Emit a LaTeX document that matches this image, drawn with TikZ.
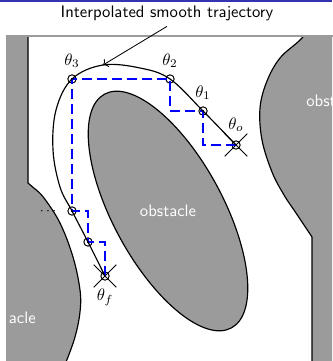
\documentclass[tikz,border=0pt]{standalone}
\usepackage{amsmath}
\usepackage{tikz}
\usetikzlibrary{arrows.meta, positioning, calc, shapes.misc}
\usepackage{xcolor}
\definecolor{obstgray}{RGB}{155,155,155}
\definecolor{barblue}{RGB}{51,51,179}
\tikzset{>=To}

\begin{document}
\begin{tikzpicture}[x=0.6pt, y=-0.6pt]

         %%%%%%%%%%%%%%%%%%%%%%%%%%%%%%%%%%%%%%%%%%%%%%%%%%%%%%%%%%%%%%%%%%%%%%
         % Parameter
         %%%%%%%%%%%%%%%%%%%%%%%%%%%%%%%%%%%%%%%%%%%%%%%%%%%%%%%%%%%%%%%%%%%%%%
         \def\fxmin{7}
         \def\fxmax{332}
         \def\fytop{36}
         \def\fybot{361}

         % Stile für Hindernisse, Wegpunkte und Treppenlinie
         \tikzset{
            wall/.style={fill=obstgray, draw=black, line width=0.7pt},
            obsttext/.style={white, font=\sffamily, inner sep=0pt},
            wpt/.style={circle, draw, line width=0.6pt, inner sep=0pt, minimum size=5pt},
            endpt/.style={cross out, draw, line width=0.6pt, inner sep=0pt, minimum size=13pt},
            stair/.style={blue, line width=0.9pt, dash pattern=on 6pt off 3pt}
         }

         \useasboundingbox (0,0) rectangle (332,361);

         %%%%%%%%%%%%%%%%%%%%%%%%%%%%%%%%%%%%%%%%%%%%%%%%%%%%%%%%%%%%%%%%%%%%%%
         % Kopfzeile
         %%%%%%%%%%%%%%%%%%%%%%%%%%%%%%%%%%%%%%%%%%%%%%%%%%%%%%%%%%%%%%%%%%%%%%
         \fill[barblue] (0,0) rectangle (332,2.5);
         \node[font=\sffamily] (Title) at (167,13) {Interpolated smooth trajectory};

         %%%%%%%%%%%%%%%%%%%%%%%%%%%%%%%%%%%%%%%%%%%%%%%%%%%%%%%%%%%%%%%%%%%%%%
         % Hindernisse (abgeschnitten am Rahmen)
         %%%%%%%%%%%%%%%%%%%%%%%%%%%%%%%%%%%%%%%%%%%%%%%%%%%%%%%%%%%%%%%%%%%%%%
         \begin{scope}
            \clip (\fxmin,\fytop) rectangle (\fxmax,\fybot);

            % linke Wand mit unterem Hindernis
            \draw[wall] (-10,20) -- (28,20) -- (28,183) -- (35,189)
               -- plot[smooth, tension=0.6] coordinates {(35,189) (44,198) (60,223) (73,257) (80,290) (80,312) (75,337) (66,362) (60,375)}
               -- (-10,375) -- cycle;

            % rechte Wand mit oberem Hindernis
            \draw[wall] (345,20) -- (318,20)
               -- plot[smooth, tension=0.6] coordinates {(318,20) (300,40) (280,58) (267,81) (260,108) (262,140) (272,172) (284,195) (296,213) (312,237)}
               -- (312,375) -- (345,375) -- cycle;

            % mittleres Hindernis (geneigte Ellipse)
            \draw[wall, rotate around={-61.5:(168,211)}] (168,211) ellipse (133 and 55);

            \node[obsttext, anchor=base] (MidLabel) at (168,216) {obstacle};
            \node[obsttext, anchor=base east] (LeftLabel) at (36,323) {obstacle};
            \node[obsttext, anchor=base west] (RightLabel) at (306,107) {obstacle};
         \end{scope}

         % Rahmen
         \draw[obstgray, line width=1pt] (\fxmin,\fybot+5) -- (\fxmin,\fytop) -- (\fxmax+5,\fytop);

         %%%%%%%%%%%%%%%%%%%%%%%%%%%%%%%%%%%%%%%%%%%%%%%%%%%%%%%%%%%%%%%%%%%%%%
         % Wegpunkte
         %%%%%%%%%%%%%%%%%%%%%%%%%%%%%%%%%%%%%%%%%%%%%%%%%%%%%%%%%%%%%%%%%%%%%%
         \node[wpt] (ThetaO)     at (236,145) {};
         \node[wpt] (ThetaOne)   at (203,111) {};
         \node[wpt] (ThetaTwo)   at (170,79)  {};
         \node[wpt] (ThetaThree) at (72,79)   {};
         \node[wpt] (PFour)      at (72,211)  {};
         \node[wpt] (PFive)      at (88,242)  {};
         \node[wpt] (ThetaF)     at (105,276) {};

         \node[endpt] (CrossO) at (ThetaO) {};
         \node[endpt] (CrossF) at (ThetaF) {};

         %%%%%%%%%%%%%%%%%%%%%%%%%%%%%%%%%%%%%%%%%%%%%%%%%%%%%%%%%%%%%%%%%%%%%%
         % BLAU: Treppenpfad
         %%%%%%%%%%%%%%%%%%%%%%%%%%%%%%%%%%%%%%%%%%%%%%%%%%%%%%%%%%%%%%%%%%%%%%
         \draw[stair] (ThetaO.center) -| (ThetaOne.center) -| (ThetaTwo.center)
            -- (ThetaThree.center) |- (PFour.center) -| (PFive.center) -| (ThetaF.center);

         %%%%%%%%%%%%%%%%%%%%%%%%%%%%%%%%%%%%%%%%%%%%%%%%%%%%%%%%%%%%%%%%%%%%%%
         % glatte Trajektorie
         %%%%%%%%%%%%%%%%%%%%%%%%%%%%%%%%%%%%%%%%%%%%%%%%%%%%%%%%%%%%%%%%%%%%%%
         \coordinate (BendA) at (140,68);
         \coordinate (CurveHit) at (103,65);
         \coordinate (BendB) at (56,110);
         \coordinate (BendC) at (53,150);
         \coordinate (BendD) at (60,187);

         \draw[line width=0.7pt] plot[smooth, tension=0.6] coordinates {
            (ThetaO.center) (ThetaOne.center) (ThetaTwo.center) (BendA) (CurveHit)
            (ThetaThree.center) (BendB) (BendC) (BendD) (PFour.center) (PFive.center) (ThetaF.center)};

         % Pfeil vom Titel zur Kurve
         \draw[->, line width=0.5pt] (Title.south) -- (CurveHit);

         %%%%%%%%%%%%%%%%%%%%%%%%%%%%%%%%%%%%%%%%%%%%%%%%%%%%%%%%%%%%%%%%%%%%%%
         % Beschriftung
         %%%%%%%%%%%%%%%%%%%%%%%%%%%%%%%%%%%%%%%%%%%%%%%%%%%%%%%%%%%%%%%%%%%%%%
         \node[above=0.5pt of ThetaThree] (LabelThree) {$\theta_3$};
         \node[above=0.5pt of ThetaTwo]   (LabelTwo)   {$\theta_2$};
         \node[above=0.5pt of ThetaOne]   (LabelOne)   {$\theta_1$};
         \node[above=1.5pt of ThetaO]     (LabelO)     {$\theta_o$};
         \node[below=1.5pt of ThetaF]     (LabelF)     {$\theta_f$};
         \node[left=5pt of PFour, inner sep=0pt] (Dots) {\footnotesize$\cdots$};

\end{tikzpicture}
\end{document}
